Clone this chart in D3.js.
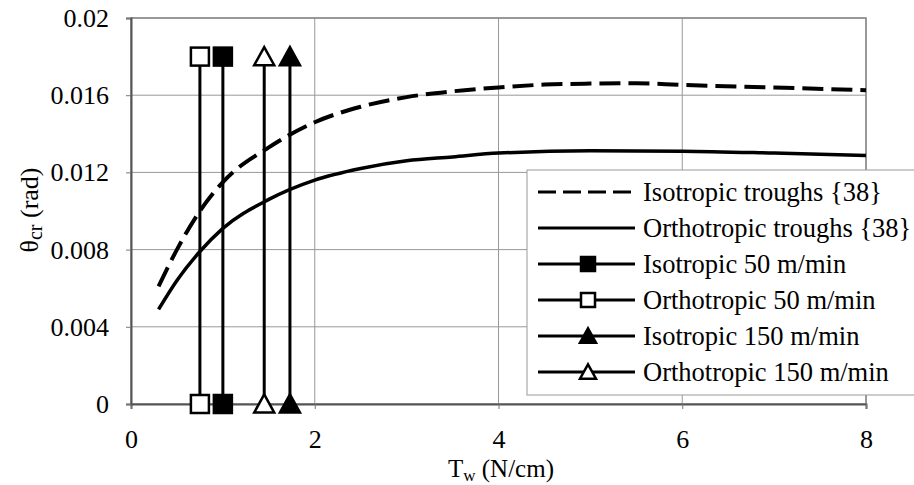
<!DOCTYPE html>
<html><head><meta charset="utf-8">
<script src="https://cdn.jsdelivr.net/npm/d3@7"></script>
<style>
body{margin:0;background:#fff;}
text{font-family:"Liberation Serif","Times New Roman",serif;fill:#000;}
</style></head><body>
<svg id="chart" width="914" height="485"></svg>
<script>
// ---- data ----
const isoTroughX = [0.3,0.5,0.75,1.0,1.5,2.0,2.5,3.0,3.5,4.0,4.5,5.0,5.5,6.0,7.0,8.0];
const isoTroughY = [0.0061,0.0080,0.0100,0.0115,0.0133,0.0146,0.0154,0.0159,0.0162,0.0164,0.01655,0.0166,0.01662,0.01653,0.0164,0.01626];
const orthoTroughX = [0.3,0.5,0.75,1.0,1.5,2.0,2.5,3.0,3.5,4.0,5.0,6.0,7.0,8.0];
const orthoTroughY = [0.0049,0.0064,0.0079,0.0091,0.0106,0.0116,0.0122,0.0126,0.0128,0.0130,0.01312,0.0131,0.0130,0.01287];
const iso50X = [1.0,1.0], iso50Y = [0,0.018];
const ortho50X = [0.75,0.75], ortho50Y = [0,0.018];
const iso150X = [1.73,1.73], iso150Y = [0,0.018];
const ortho150X = [1.45,1.45], ortho150Y = [0,0.018];
const xTicks = [0,2,4,6,8];
const yTicks = [0,0.004,0.008,0.012,0.016,0.02];
const legendLabels = ["Isotropic troughs {38}","Orthotropic troughs {38}","Isotropic 50 m/min","Orthotropic 50 m/min","Isotropic 150 m/min","Orthotropic 150 m/min"];

const svg = d3.select("#chart");
const L=131, R=866, T=18, B=404;
const x = d3.scaleLinear().domain([0,8]).range([L,R]);
const y = d3.scaleLinear().domain([0,0.02]).range([B,T]);

// gridlines
svg.append("g").selectAll("line").data(xTicks.slice(1)).join("line")
  .attr("x1",d=>x(d)).attr("x2",d=>x(d)).attr("y1",T).attr("y2",B)
  .attr("stroke","#999").attr("stroke-width",1);
svg.append("g").selectAll("line").data(yTicks.slice(1)).join("line")
  .attr("x1",L).attr("x2",R).attr("y1",d=>y(d)).attr("y2",d=>y(d))
  .attr("stroke","#999").attr("stroke-width",1);
// border
svg.append("rect").attr("x",L).attr("y",T).attr("width",R-L).attr("height",B-T)
  .attr("fill","none").attr("stroke","#888").attr("stroke-width",1.5);

// axes
const xAxis = svg.append("g").attr("transform",`translate(0,${B})`)
  .call(d3.axisBottom(x).tickValues(xTicks).tickFormat(d3.format("d")).tickSize(5).tickPadding(21));
const yAxis = svg.append("g").attr("transform",`translate(${L},0)`)
  .call(d3.axisLeft(y).tickValues(yTicks).tickFormat(d=>d===0?"0":String(+d.toFixed(3))).tickSize(5).tickPadding(17));
[xAxis,yAxis].forEach(a=>{
  a.select(".domain").attr("stroke","#555").attr("stroke-width",2);
  a.selectAll(".tick line").attr("stroke","#777");
  a.selectAll("text").style("font-size","26px").style("font-family",'"Liberation Serif","Times New Roman",serif').attr("fill","#000");
});
yAxis.selectAll("text").attr("dy","0.33em");
xAxis.selectAll("text").attr("dy","0.68em");

// curves
const line = d3.line().x(d=>x(d[0])).y(d=>y(d[1])).curve(d3.curveMonotoneX);
svg.append("path").datum(isoTroughX.map((v,i)=>[v,isoTroughY[i]]))
  .attr("d",line).attr("fill","none").attr("stroke","#000").attr("stroke-width",4)
  .attr("stroke-dasharray","21,8");
svg.append("path").datum(orthoTroughX.map((v,i)=>[v,orthoTroughY[i]]))
  .attr("d",line).attr("fill","none").attr("stroke","#000").attr("stroke-width",3.5);

// marker series
const series = [
  {xs:ortho50X, ys:ortho50Y, shape:"square", fill:"#fff"},
  {xs:iso50X, ys:iso50Y, shape:"square", fill:"#000"},
  {xs:ortho150X, ys:ortho150Y, shape:"triangle", fill:"#fff"},
  {xs:iso150X, ys:iso150Y, shape:"triangle", fill:"#000"}
];
function drawMarker(g, cx, cy, shape, fill, s){
  if(shape==="square"){
    g.append("rect").attr("x",cx-s/2).attr("y",cy-s/2).attr("width",s).attr("height",s)
      .attr("fill",fill).attr("stroke","#000").attr("stroke-width",2.5);
  } else {
    const h=s*0.95;
    g.append("path").attr("d",`M${cx},${cy-h/2-1}L${cx+s/2+1},${cy+h/2}L${cx-s/2-1},${cy+h/2}Z`)
      .attr("fill",fill).attr("stroke","#000").attr("stroke-width",2.5).attr("stroke-linejoin","miter");
  }
}
const mg = svg.append("g");
series.forEach(s=>{
  const pts = s.xs.map((v,i)=>[v,s.ys[i]]);
  mg.append("path").datum(pts).attr("d",d3.line().x(d=>x(d[0])).y(d=>y(d[1])))
    .attr("stroke","#000").attr("stroke-width",3).attr("fill","none");
  pts.forEach(p=>drawMarker(mg, x(p[0]), y(p[1]), s.shape, s.fill, 18));
});

// legend
const lg = svg.append("g");
lg.append("rect").attr("x",527).attr("y",170).attr("width",400).attr("height",225)
  .attr("fill","#fff").attr("stroke","#999").attr("stroke-width",1);
const rowY = d3.scaleLinear().domain([0,5]).range([192,372]);
const legendStyles = [
  {dash:"18,7", shape:null, fill:null},
  {dash:null, shape:null, fill:null},
  {dash:null, shape:"square", fill:"#000"},
  {dash:null, shape:"square", fill:"#fff"},
  {dash:null, shape:"triangle", fill:"#000"},
  {dash:null, shape:"triangle", fill:"#fff"}
];
legendLabels.forEach((lab,i)=>{
  const cy = rowY(i), st = legendStyles[i];
  lg.append("line").attr("x1",538).attr("x2",635).attr("y1",cy).attr("y2",cy)
    .attr("stroke","#000").attr("stroke-width",3).attr("stroke-dasharray",st.dash);
  if(st.shape) drawMarker(lg,588,cy,st.shape,st.fill,14);
  lg.append("text").attr("x",643).attr("y",cy+9).style("font-size","26.5px").text(lab);
});

// axis titles
const xt = svg.append("text").attr("x",501).attr("y",477).attr("text-anchor","middle").style("font-size","25px");
xt.append("tspan").text("T");
xt.append("tspan").attr("dy",4).style("font-size","17px").text("w");
xt.append("tspan").attr("dy",-4).text(" (N/cm)");
const yt = svg.append("text").attr("transform","translate(38,210) rotate(-90)").attr("text-anchor","middle").style("font-size","26px");
yt.append("tspan").text("θ");
yt.append("tspan").attr("dy",4).style("font-size","20px").text("cr");
yt.append("tspan").attr("dy",-4).text(" (rad)");
</script>
</body></html>
